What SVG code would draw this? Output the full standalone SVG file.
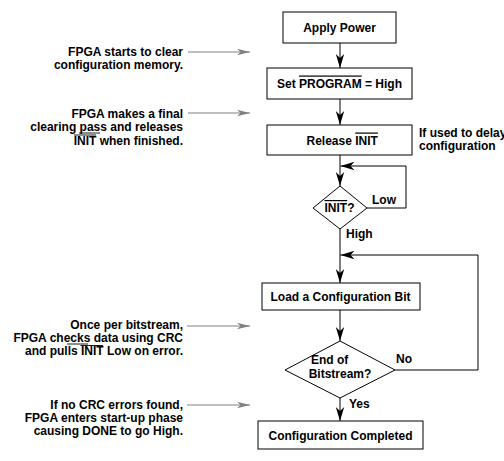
<svg xmlns="http://www.w3.org/2000/svg" width="504" height="461" viewBox="0 0 504 461">
  <style>
    text { font-family: "Liberation Sans", Arial, sans-serif; font-weight: bold; font-size: 12px; fill: #000; }
    .c { text-anchor: middle; }
    .r { text-anchor: end; }
    .box { fill: #fff; stroke: #000; stroke-width: 1; }
    .wire { fill: none; stroke: #000; stroke-width: 1; }
    .note { fill: none; stroke: #808080; stroke-width: 1; }
    .ol { stroke: #000; stroke-width: 0.9; }
  </style>
  <defs>
    <marker id="ah" viewBox="-14 -5 15 10" refX="0" refY="0" markerWidth="15" markerHeight="10" markerUnits="userSpaceOnUse" orient="auto">
      <path d="M0,0 L-14,-4.2 L-10,0 L-14,4.2 Z" fill="#000"/>
    </marker>
    <marker id="ag" viewBox="-13 -4 14 8" refX="0" refY="0" markerWidth="14" markerHeight="8" markerUnits="userSpaceOnUse" orient="auto">
      <path d="M0,0 L-13,-3.2 L-9.5,0 L-13,3.2 Z" fill="#808080"/>
    </marker>
  </defs>

  <!-- annotations -->
  <g id="note1">
    <text class="r" x="183" y="55.5">FPGA starts to clear</text>
    <text class="r" x="183" y="69">configuration memory.</text>
    <line class="note" x1="188" y1="52" x2="250" y2="52" marker-end="url(#ag)"/>
  </g>
  <g id="note2">
    <text class="r" x="183" y="117.5">FPGA makes a final</text>
    <text class="r" x="183" y="131">clearing pass and releases</text>
    <text class="r" x="183" y="144.5">INIT when finished.</text>
    <line class="ol" x1="79" y1="133" x2="100" y2="133"/>
    <line class="ol" x1="74" y1="135" x2="96" y2="135"/>
    <line class="note" x1="188" y1="113" x2="250" y2="113" marker-end="url(#ag)"/>
  </g>
  <g id="note3">
    <text class="r" x="183" y="329">Once per bitstream,</text>
    <text class="r" x="183" y="342">FPGA checks data using CRC</text>
    <text class="r" x="183" y="355">and pulls INIT Low on error.</text>
    <line class="ol" x1="67" y1="344" x2="88" y2="344"/>
    <line class="ol" x1="80.5" y1="345.5" x2="103" y2="345.5"/>
    <line class="note" x1="187" y1="326" x2="250" y2="326" marker-end="url(#ag)"/>
  </g>
  <g id="note4">
    <text class="r" x="183" y="408.5">If no CRC errors found,</text>
    <text class="r" x="183" y="421.5">FPGA enters start-up phase</text>
    <text class="r" x="183" y="434.5">causing DONE to go High.</text>
    <line class="note" x1="187" y1="405" x2="250" y2="405" marker-end="url(#ag)"/>
  </g>
  <g id="note5">
    <text x="419" y="137">If used to delay</text>
    <text x="419" y="150">configuration</text>
  </g>

  <!-- connectors -->
  <g id="connectors">
    <line class="wire" x1="340" y1="43" x2="340" y2="68" marker-end="url(#ah)"/>
    <line class="wire" x1="340" y1="99" x2="340" y2="125" marker-end="url(#ah)"/>
    <line class="wire" x1="340" y1="155" x2="340" y2="186" marker-end="url(#ah)"/>
    <polyline class="wire" points="367,208 406,208 406,166 340.5,166" marker-end="url(#ah)"/>
    <line class="wire" x1="340" y1="229" x2="340" y2="283" marker-end="url(#ah)"/>
    <line class="wire" x1="340" y1="310" x2="340" y2="341" marker-end="url(#ah)"/>
    <polyline class="wire" points="395,370 478,370 478,255 340.5,255" marker-end="url(#ah)"/>
    <line class="wire" x1="340" y1="398" x2="340" y2="421" marker-end="url(#ah)"/>
    <text x="372" y="204">Low</text>
    <text x="346" y="238">High</text>
    <text x="396" y="363">No</text>
    <text x="349" y="408">Yes</text>
  </g>

  <!-- nodes -->
  <g id="apply-power">
    <rect class="box" x="283" y="12" width="113" height="31"/>
    <text class="c" x="339.5" y="31.5">Apply Power</text>
  </g>
  <g id="set-program">
    <rect class="box" x="267" y="68" width="145" height="31"/>
    <text x="277" y="87.5">Set <tspan text-decoration="overline">PROGRAM</tspan> = High</text>
  </g>
  <g id="release-init">
    <rect class="box" x="267" y="125" width="145" height="30"/>
    <text x="306.5" y="144.5">Release <tspan text-decoration="overline">INIT</tspan></text>
  </g>
  <g id="init-decision">
    <polygon class="box" points="340,186 367,208 340,229 313,208"/>
    <text x="324.5" y="212"><tspan text-decoration="overline">INIT</tspan>?</text>
  </g>
  <g id="load-bit">
    <rect class="box" x="262" y="283" width="158" height="27"/>
    <text class="c" x="340.5" y="301">Load a Configuration Bit</text>
  </g>
  <g id="end-decision">
    <polygon class="box" points="340,341 395,370 340,398 285,370"/>
    <text x="311" y="364">End of</text>
    <text class="c" x="340" y="378">Bitstream?</text>
  </g>
  <g id="config-completed">
    <rect class="box" x="258" y="421" width="165" height="28"/>
    <text class="c" x="340.5" y="439.5">Configuration Completed</text>
  </g>
</svg>
